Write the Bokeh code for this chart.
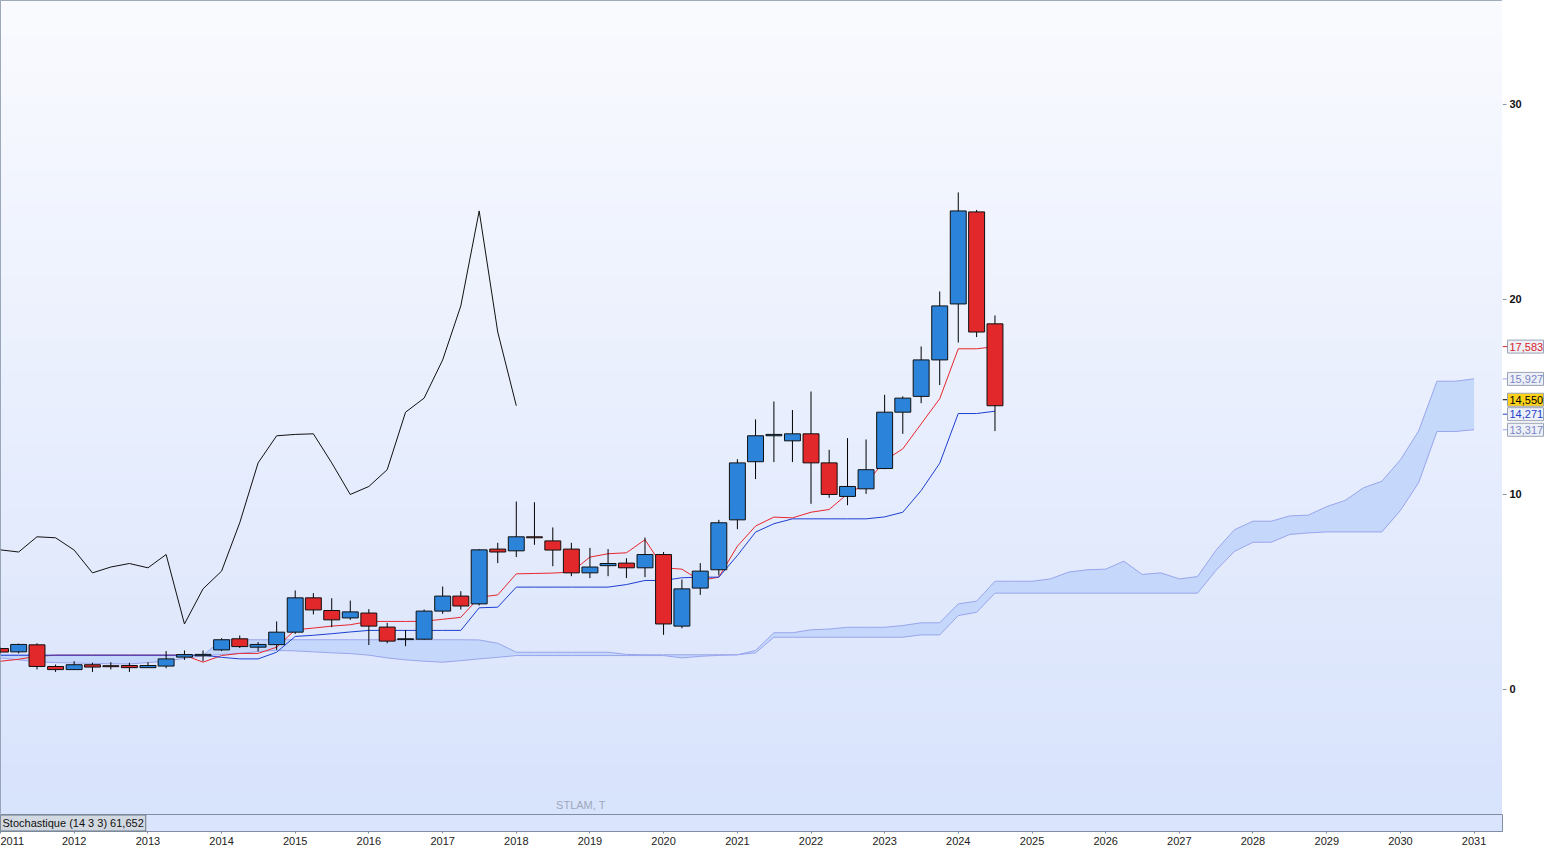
import numpy as np
import pandas as pd
from bokeh.plotting import figure
from bokeh.models import Range1d, FixedTicker, Label, DatetimeTickFormatter, ColumnDataSource
from bokeh.layouts import column, row
from bokeh.embed import file_html
from bokeh.resources import INLINE
from bokeh.core.properties import value

# ---------------- data (quarterly candles, STLAM) ----------------
quarters = pd.period_range("2011Q1", "2024Q3", freq="Q").to_timestamp()
cloud_quarters = pd.period_range("2011Q1", "2031Q1", freq="Q").to_timestamp()

opens = [2.10, 1.93, 2.29, 1.18, 1.02, 1.27, 1.22, 1.23, 1.12, 1.20, 1.66, 1.73, 2.03, 2.60, 2.17,
         2.30, 2.94, 4.70, 4.05, 3.67, 3.92, 3.20, 2.56, 2.58, 4.02, 4.79, 4.39, 7.20, 7.11, 7.83,
         7.62, 7.20, 5.98, 6.35, 6.48, 6.24, 6.92, 3.25, 5.20, 6.14, 8.70, 11.68, 13.01, 12.75, 13.11,
         11.62, 9.90, 10.29, 11.33, 14.22, 15.03, 16.90, 19.77, 24.49, 18.75]
highs = [2.15, 2.35, 2.37, 1.28, 1.45, 1.37, 1.40, 1.37, 1.40, 1.97, 2.00, 2.00, 2.63, 2.77, 2.43,
         3.49, 5.08, 4.94, 4.68, 4.56, 4.12, 3.42, 3.05, 4.10, 5.28, 5.04, 7.20, 7.52, 9.64, 9.60,
         8.31, 7.52, 7.26, 7.20, 6.73, 7.79, 7.05, 5.64, 6.48, 8.70, 11.81, 13.85, 14.77, 14.33, 15.28,
         12.29, 12.89, 12.82, 15.11, 15.03, 17.59, 20.41, 25.49, 24.59, 19.18]
lows = [1.85, 1.85, 1.03, 0.90, 1.00, 0.90, 1.03, 0.90, 1.10, 1.09, 1.52, 1.45, 1.97, 2.13, 1.95,
        2.03, 2.85, 3.85, 3.20, 3.57, 2.28, 2.37, 2.22, 2.55, 3.88, 4.10, 4.31, 6.48, 6.79, 7.42,
        6.32, 5.81, 5.71, 5.81, 5.71, 5.76, 2.80, 3.14, 4.85, 5.85, 8.22, 10.79, 11.66, 11.66, 9.52,
        9.83, 9.45, 10.03, 11.30, 13.11, 14.68, 15.61, 17.79, 18.07, 13.25]
closes = [1.92, 2.31, 1.18, 1.02, 1.27, 1.15, 1.17, 1.12, 1.23, 1.57, 1.79, 1.80, 2.55, 2.20, 2.31,
          2.94, 4.70, 4.08, 3.57, 3.98, 3.25, 2.48, 2.60, 4.02, 4.79, 4.28, 7.16, 7.05, 7.83, 7.78,
          7.15, 5.98, 6.28, 6.46, 6.24, 6.92, 3.36, 5.16, 6.07, 8.55, 11.62, 13.01, 13.08, 13.11, 11.62,
          10.00, 10.41, 11.27, 14.22, 14.94, 16.90, 19.67, 24.54, 18.33, 14.55]

tenkan = [1.45, 1.55, 1.70, 1.76, 1.76, 1.76, 1.76, 1.76, 1.76, 1.76, 1.76, 1.40, 1.74, 1.85, 1.85,
          2.17, 3.06, 3.15, 3.25, 3.32, 3.49, 3.49, 3.49, 3.50, 3.60, 3.70, 4.73, 4.85, 5.93, 5.95,
          5.97, 6.02, 6.79, 6.96, 7.01, 7.68, 6.24, 6.17, 5.59, 5.76, 7.35, 8.38, 8.84, 8.80, 9.09,
          9.23, 10.03, 10.54, 11.74, 12.34, 13.62, 14.91, 17.47, 17.47, 17.58]
kijun = [1.76, 1.76, 1.76, 1.76, 1.76, 1.76, 1.76, 1.76, 1.76, 1.76, 1.76, 1.76, 1.65, 1.57, 1.57,
         1.91, 2.72, 2.78, 2.86, 2.95, 3.03, 3.03, 3.03, 3.03, 3.03, 3.03, 4.19, 4.22, 5.25, 5.25,
         5.25, 5.25, 5.25, 5.25, 5.38, 5.59, 5.59, 5.73, 5.76, 5.76, 6.87, 8.07, 8.50, 8.75, 8.75,
         8.75, 8.75, 8.75, 8.85, 9.09, 10.20, 11.60, 14.15, 14.15, 14.27]

span_a = [1.74, 1.74, 1.74, 1.74, 1.74, 1.74, 1.74, 1.74, 1.74, 1.74, 1.74, 1.74,
          2.55, 2.55, 2.55, 2.55, 2.55, 2.55, 2.55, 2.55, 2.55, 2.55, 2.55, 2.55, 2.55, 2.55, 2.54,
          2.37, 1.91, 1.91, 1.91, 1.91, 1.91, 1.91, 1.80, 1.78, 1.78, 1.78, 1.78, 1.78, 1.78,
          2.00, 2.91, 2.91, 3.06, 3.10, 3.19, 3.19, 3.19, 3.28, 3.42,
          3.42, 4.39, 4.53, 5.55, 5.55, 5.55, 5.67, 6.02, 6.14, 6.17,
          6.58, 5.90, 5.98, 5.67, 5.79, 7.13, 8.19, 8.63, 8.63, 8.90,
          8.94, 9.38, 9.69, 10.34, 10.68, 11.78, 13.25, 15.81, 15.81, 15.93]
span_b = [1.62, 1.52, 1.42, 1.38, 1.36, 1.34, 1.32, 1.31, 1.38, 1.45,
          1.60, 1.72, 1.80, 1.85, 1.95, 2.00, 1.98, 1.93, 1.88, 1.84,
          1.76, 1.62, 1.52, 1.45, 1.40, 1.48, 1.57, 1.65, 1.74, 1.74,
          1.74, 1.74, 1.74, 1.74, 1.74, 1.74, 1.74, 1.62, 1.70, 1.75,
          1.78, 1.88, 2.68, 2.68, 2.68, 2.68, 2.68, 2.68, 2.68, 2.68,
          2.80, 2.80, 3.79, 3.96, 4.94, 4.94, 4.94, 4.94, 4.94, 4.94,
          4.94, 4.94, 4.94, 4.94, 4.94, 4.94, 6.10, 7.08, 7.55, 7.55,
          7.95, 8.03, 8.08, 8.08, 8.08, 8.08, 9.18, 10.60, 13.23, 13.23, 13.32]

chikou_shift = 26
year_ticks = list(range(2011, 2032))
price_ticks = [0, 10, 20, 30]
last_values = [17.583, 15.927, 14.550, 14.271, 13.317]
last_texts = ["17,583", "15,927", "14,550", "14,271", "13,317"]
last_text_colors = ["#d8232a", "#7c86c9", "#000000", "#1b3fcf", "#7c86c9"]
last_fill_colors = ["#edf0f6", "#edf0f6", "#ffd21a", "#edf0f6", "#edf0f6"]
last_line_colors = ["#d8232a", "#9aa5ec", "#000000", "#1b3fcf", "#9aa5ec"]
last_nudge_px = [0, 0, 6, -3, 0]
stoch_text = "Stochastique (14 3 3) 61,652"
watermark = "STLAM, T"

# ---------------- figure setup ----------------
FONT = "Liberation Sans"
PX_PER_UNIT = 19.5
x0 = pd.Timestamp("2011-01-01")
x1 = pd.Timestamp("2031-05-22")
ms = lambda t: t.value // 10**6
xr = Range1d(ms(x0), ms(x1))
y_lo, y_hi = -6.41, 35.33
yr = Range1d(y_lo, y_hi)

p = figure(width=1502, height=814, x_range=xr, y_range=yr,
           x_axis_type="datetime", x_axis_location=None, y_axis_location=None,
           output_backend="svg", toolbar_location=None, min_border=0)
p.border_fill_color = "white"
p.outline_line_color = "#7f8ea3"
p.xgrid.visible = False
p.ygrid.visible = False

# background gradient (white at top -> light blue at bottom)
n = 160
img = np.zeros((n, 1), dtype=np.uint32)
view = img.view(dtype=np.uint8).reshape((n, 1, 4))
top_c = np.array([250, 251, 255])
bot_c = np.array([216, 227, 252])
for i in range(n):
    f = i / (n - 1)
    c = bot_c + (top_c - bot_c) * f
    view[i, 0, :] = [int(c[0]), int(c[1]), int(c[2]), 255]
p.image_rgba(image=[img], x=ms(x0), y=y_lo, dw=ms(x1) - ms(x0), dh=y_hi - y_lo)

# cloud
p.varea(x=cloud_quarters, y1=span_a, y2=span_b, fill_color="#c3d7fb", fill_alpha=0.95)
p.line(cloud_quarters, span_a, line_color="#9aa5ec", line_width=1)
p.line(cloud_quarters, span_b, line_color="#9aa5ec", line_width=1)

# tenkan / kijun
p.line(quarters, tenkan, line_color="#e8262c", line_width=1)
p.line(quarters, kijun, line_color="#1d3fd2", line_width=1)

# chikou (close shifted back 26 quarters)
p.line(quarters[:len(closes) - chikou_shift], closes[chikou_shift:], line_color="#111111", line_width=1)

# candles
o = np.array(opens); c = np.array(closes)
up = c >= o
body_w = 79 * 24 * 3600 * 1000
p.segment(x0=quarters, y0=lows, x1=quarters, y1=highs, line_color="black", line_width=1)
p.vbar(x=quarters[up], width=body_w, top=c[up], bottom=o[up],
       fill_color="#2c84da", line_color="#101010", line_width=1)
p.vbar(x=quarters[~up], width=body_w, top=o[~up], bottom=c[~up],
       fill_color="#e2282b", line_color="#101010", line_width=1)

p.add_layout(Label(x=ms(pd.Timestamp("2018-11-17")), y=-5.9, text=watermark,
                   text_align="center", text_baseline="middle", text_font=FONT,
                   text_font_size="11px", text_color="#9ea7bd"))

# ---------------- right price scale strip ----------------
side = figure(width=42, height=814, x_range=Range1d(0, 42), y_range=yr,
              x_axis_location=None, y_axis_location=None,
              output_backend="svg", toolbar_location=None, min_border=0)
side.outline_line_color = None
side.background_fill_color = "white"
side.border_fill_color = "white"
side.xgrid.visible = False
side.ygrid.visible = False

side.segment(x0=0, x1=4, y0=price_ticks, y1=price_ticks, line_color="#7f8ea3", line_width=1)
side.text(x=7, y=price_ticks, text=[str(t) for t in price_ticks], text_baseline="middle",
          text_align="left", text_font=value(FONT), text_font_size="11px",
          text_font_style="bold", text_color="#111111")

lab = ColumnDataSource(dict(
    y=[v + d / PX_PER_UNIT for v, d in zip(last_values, last_nudge_px)],
    text=last_texts, tc=last_text_colors, fc=last_fill_colors, lc=last_line_colors))
side.segment(x0=0, x1=5, y0="y", y1="y", line_color="lc", source=lab)
side.rect(x=23, y="y", width=36, height=13, height_units="screen",
          fill_color="fc", line_color="#9aa3b5", source=lab)
side.text(x=7, y="y", text="text", text_color="tc", text_baseline="middle", text_align="left",
          text_font=value(FONT), text_font_size="11px", source=lab)

# ---------------- stochastic (collapsed) panel with time axis ----------------
s = figure(width=1544, height=33, x_range=xr, y_range=Range1d(0, 1),
           x_axis_type="datetime", y_axis_location=None,
           output_backend="svg", toolbar_location=None,
           min_border_left=0, min_border_top=0, min_border_bottom=0, min_border_right=42)
s.background_fill_color = "#dae4fc"
s.border_fill_color = "white"
s.outline_line_color = "#7f8ea3"
s.xgrid.visible = False
s.ygrid.visible = False
xa = s.xaxis[0]
xa.ticker = FixedTicker(ticks=[ms(pd.Timestamp(f"{yr_}-01-01")) for yr_ in year_ticks])
xa.formatter = DatetimeTickFormatter(years="%Y", months="%Y", days="%Y")
xa.minor_tick_line_color = None
xa.major_tick_out = 2
xa.major_tick_in = 0
xa.major_label_standoff = 3
xa.axis_line_color = "#7f8ea3"
xa.major_tick_line_color = "#7f8ea3"
xa.major_label_text_font = FONT
xa.major_label_text_font_size = "11px"
xa.major_label_text_color = "#222222"

s.add_layout(Label(x=ms(x0), y=0.5, text=stoch_text, text_align="left", text_baseline="middle",
                   text_font=FONT, text_font_size="11px", text_color="#111111",
                   background_fill_color="#d3d9e1", border_line_color="#6c7888", padding=2))

layout = column(row(p, side, spacing=0), s, spacing=0)
open("out.html", "w").write(file_html(layout, INLINE))
